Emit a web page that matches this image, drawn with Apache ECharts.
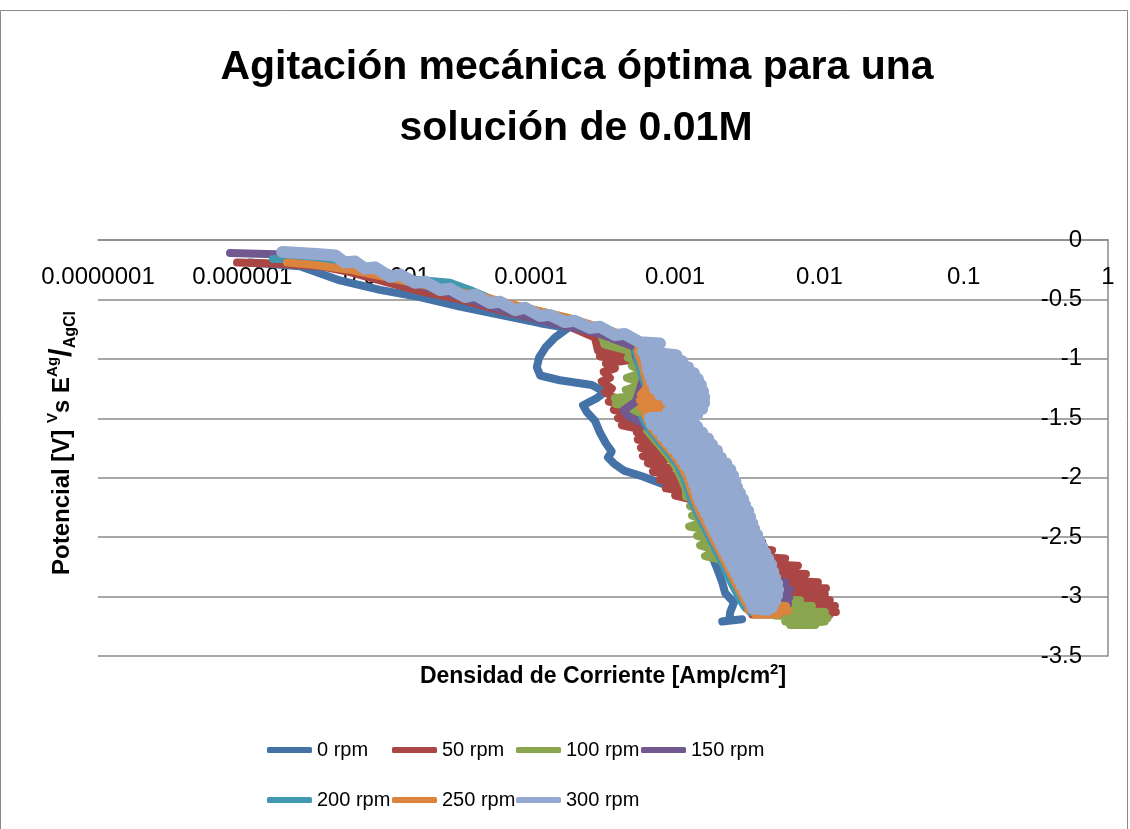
<!DOCTYPE html>
<html>
<head>
<meta charset="utf-8">
<title>Agitación mecánica óptima</title>
<script src="https://cdn.jsdelivr.net/npm/echarts@6/dist/echarts.min.js"></script>
<style>
  html, body { margin: 0; padding: 0; background: #fff; }
  #main { width: 1130px; height: 829px; }
</style>
</head>
<body>
<div id="main"></div>
<script>
// curvas de polarizacion: [densidad de corriente (A/cm2), potencial (V)]
const rpm0 = [
  [1.13e-6, -0.19], [2.51e-6, -0.22], [4.75e-6, -0.34], [9.00e-6, -0.42], [1.70e-5, -0.48],
  [3.23e-5, -0.56], [6.11e-5, -0.63], [1.16e-4, -0.70], [1.81e-4, -0.74], [1.47e-4, -0.82],
  [1.27e-4, -0.90], [1.14e-4, -0.99], [1.10e-4, -1.07], [1.16e-4, -1.14], [1.59e-4, -1.18],
  [2.65e-4, -1.22], [3.26e-4, -1.28], [2.87e-4, -1.33], [2.30e-4, -1.39], [2.45e-4, -1.45],
  [2.78e-4, -1.52], [3.01e-4, -1.62], [3.31e-4, -1.71], [3.64e-4, -1.78], [3.42e-4, -1.83],
  [3.76e-4, -1.88], [4.41e-4, -1.94], [5.97e-4, -1.99], [8.09e-4, -2.05], [1.12e-3, -2.12],
  [1.42e-3, -2.20], [1.54e-3, -2.36], [1.69e-3, -2.52], [1.83e-3, -2.68], [1.99e-3, -2.79],
  [2.12e-3, -2.88], [2.22e-3, -2.97], [2.56e-3, -3.05], [2.41e-3, -3.13], [2.37e-3, -3.20],
  [2.12e-3, -3.21], [2.91e-3, -3.19]
]
const rpm50 = [
  [9.19e-7, -0.19], [1.83e-6, -0.20], [3.46e-6, -0.22], [5.58e-6, -0.27], [9.00e-6, -0.34],
  [1.70e-5, -0.43], [3.23e-5, -0.50], [6.11e-5, -0.59], [1.16e-4, -0.67], [1.87e-4, -0.73],
  [2.78e-4, -0.82],
  [2.92e-4, -0.93], [4.48e-4, -0.94], [3.01e-4, -0.98], [4.85e-4, -1.01], [3.31e-4, -1.04],
  [3.82e-4, -1.08], [3.20e-4, -1.11], [3.53e-4, -1.16], [3.10e-4, -1.19], [3.64e-4, -1.25],
  [3.26e-4, -1.28], [3.82e-4, -1.33], [3.47e-4, -1.36], [4.70e-4, -1.40], [3.76e-4, -1.43],
  [5.26e-4, -1.46], [4.01e-4, -1.50], [5.69e-4, -1.53], [4.27e-4, -1.56], [6.17e-4, -1.60],
  [5.43e-4, -1.62], [7.23e-4, -1.65], [5.51e-4, -1.68], [7.59e-4, -1.72], [5.79e-4, -1.75],
  [8.09e-4, -1.78], [5.97e-4, -1.82], [8.49e-4, -1.85], [6.47e-4, -1.88], [9.19e-4, -1.92],
  [7.01e-4, -1.95], [1.05e-3, -1.99], [7.84e-4, -2.02], [1.17e-3, -2.05], [8.62e-4, -2.09],
  [1.27e-3, -2.12], [1.00e-3, -2.15], [1.38e-3, -2.19],
  [1.49e-3, -2.27], [1.64e-3, -2.37], [1.80e-3, -2.47],
  [1.89e-3, -2.52], [4.01e-3, -2.54], [1.99e-3, -2.57], [4.70e-3, -2.61], [2.08e-3, -2.64],
  [5.79e-3, -2.68], [2.18e-3, -2.71], [7.10e-3, -2.74], [2.33e-3, -2.78], [8.06e-3, -2.81],
  [2.44e-3, -2.84], [9.76e-3, -2.88], [2.56e-3, -2.89], [1.11e-2, -2.93], [2.69e-3, -2.94],
  [1.09e-2, -2.98], [2.82e-3, -3.00], [1.18e-2, -3.03], [2.96e-3, -3.05], [1.28e-2, -3.08],
  [3.11e-3, -3.10], [1.30e-2, -3.13], [3.42e-3, -3.15], [1.18e-2, -3.15]
]
const rpm100 = [
  [1.98e-6, -0.15], [4.05e-6, -0.19], [9.00e-6, -0.29], [2.00e-5, -0.38], [4.44e-5, -0.48],
  [9.86e-5, -0.58], [1.87e-4, -0.66], [3.01e-4, -0.77], [3.26e-4, -0.88],
  [5.01e-4, -0.94], [4.70e-4, -0.99], [5.69e-4, -1.03], [5.01e-4, -1.06], [6.17e-4, -1.11],
  [4.63e-4, -1.16], [6.17e-4, -1.21], [4.55e-4, -1.26], [6.47e-4, -1.30], [3.82e-4, -1.33],
  [6.68e-4, -1.36], [3.88e-4, -1.38], [6.68e-4, -1.41], [4.85e-4, -1.45], [6.47e-4, -1.50],
  [6.37e-4, -1.60], [7.47e-4, -1.70], [8.76e-4, -1.80], [1.00e-3, -1.90], [1.10e-3, -2.00],
  [1.19e-3, -2.10],
  [1.19e-3, -2.16], [1.49e-3, -2.19], [1.27e-3, -2.24], [1.61e-3, -2.27], [1.31e-3, -2.32],
  [1.69e-3, -2.36], [1.25e-3, -2.41], [1.75e-3, -2.44], [1.42e-3, -2.49], [1.83e-3, -2.52],
  [1.49e-3, -2.57], [1.92e-3, -2.61], [1.61e-3, -2.66], [2.05e-3, -2.69], [2.33e-3, -2.79],
  [2.56e-3, -2.89], [2.82e-3, -2.98],
  [2.91e-3, -3.01], [7.35e-3, -3.03], [3.21e-3, -3.06], [8.87e-3, -3.08], [3.88e-3, -3.11],
  [1.09e-2, -3.13], [4.93e-3, -3.16], [1.14e-2, -3.18], [5.79e-3, -3.21], [1.09e-2, -3.21],
  [6.27e-3, -3.24], [9.34e-3, -3.24]
]
const rpm150 = [
  [8.22e-7, -0.11], [1.69e-6, -0.12], [2.51e-6, -0.13], [4.05e-6, -0.17], [6.54e-6, -0.24],
  [1.24e-5, -0.34], [2.75e-5, -0.45], [6.11e-5, -0.58], [1.35e-4, -0.69], [3.01e-4, -0.79],
  [5.26e-4, -0.90],
  [5.34e-4, -0.98], [5.69e-4, -1.06], [6.07e-4, -1.14], [5.69e-4, -1.26], [5.34e-4, -1.36],
  [4.41e-4, -1.43], [4.70e-4, -1.48], [5.69e-4, -1.53],
  [6.90e-4, -1.60], [7.96e-4, -1.70], [9.34e-4, -1.80], [1.07e-3, -1.90], [1.17e-3, -2.00],
  [1.25e-3, -2.10], [1.33e-3, -2.20], [1.47e-3, -2.31], [1.61e-3, -2.41], [1.78e-3, -2.51],
  [1.95e-3, -2.61], [2.15e-3, -2.71], [2.37e-3, -2.81],
  [2.61e-3, -2.86], [5.79e-3, -2.88], [2.74e-3, -2.93], [6.27e-3, -2.94], [2.91e-3, -3.00],
  [6.17e-3, -3.01], [3.06e-3, -3.05], [6.07e-3, -3.06], [3.31e-3, -3.09], [5.50e-3, -3.10]
]
const rpm200 = [
  [1.63e-6, -0.16], [2.51e-6, -0.16], [4.05e-6, -0.17], [6.04e-6, -0.21], [9.00e-6, -0.26],
  [1.45e-5, -0.33], [2.75e-5, -0.36], [3.78e-5, -0.42], [6.11e-5, -0.53], [9.86e-5, -0.59],
  [1.59e-4, -0.66], [3.01e-4, -0.75], [4.85e-4, -0.82], [6.17e-4, -0.88],
  [5.34e-4, -0.94], [5.60e-4, -1.04], [5.88e-4, -1.14], [6.37e-4, -1.25], [6.90e-4, -1.35],
  [7.23e-4, -1.45], [5.97e-4, -1.50], [6.68e-4, -1.60], [7.84e-4, -1.70], [9.19e-4, -1.80],
  [1.05e-3, -1.90], [1.15e-3, -2.00], [1.23e-3, -2.10], [1.31e-3, -2.20], [1.44e-3, -2.31],
  [1.59e-3, -2.41], [1.75e-3, -2.51], [1.92e-3, -2.61], [2.12e-3, -2.71], [2.29e-3, -2.81],
  [2.52e-3, -2.91], [2.78e-3, -3.01], [3.01e-3, -3.08], [3.31e-3, -3.13], [4.01e-3, -3.13],
  [4.55e-3, -3.10]
]
const rpm250 = [
  [2.04e-6, -0.19], [3.19e-6, -0.21], [5.58e-6, -0.25], [1.06e-5, -0.32], [2.00e-5, -0.39],
  [4.44e-5, -0.47], [9.86e-5, -0.58], [1.87e-4, -0.66], [3.53e-4, -0.76], [5.69e-4, -0.85],
  [5.51e-4, -0.94], [5.88e-4, -1.04], [6.17e-4, -1.14], [6.47e-4, -1.23],
  [5.79e-4, -1.30], [9.49e-4, -1.31], [5.69e-4, -1.35], [9.49e-4, -1.38], [5.79e-4, -1.41],
  [8.90e-4, -1.44], [6.17e-4, -1.47],
  [6.37e-4, -1.51], [7.01e-4, -1.60], [8.22e-4, -1.70], [9.64e-4, -1.80], [1.10e-3, -1.90],
  [1.21e-3, -2.00], [1.29e-3, -2.10], [1.38e-3, -2.20], [1.51e-3, -2.31], [1.67e-3, -2.41],
  [1.83e-3, -2.51], [2.02e-3, -2.61], [2.22e-3, -2.71], [2.44e-3, -2.81], [2.69e-3, -2.91],
  [2.96e-3, -3.01],
  [3.11e-3, -3.06], [5.86e-3, -3.08], [3.21e-3, -3.11], [6.05e-3, -3.12], [3.58e-3, -3.15],
  [5.17e-3, -3.15]
]
const rpm300 = [
  [1.89e-6, -0.10], [3.46e-6, -0.12], [4.41e-6, -0.13], [5.15e-6, -0.19], [6.04e-6, -0.18],
  [7.09e-6, -0.24], [8.31e-6, -0.23], [1.06e-5, -0.31], [1.24e-5, -0.29], [1.57e-5, -0.36],
  [1.85e-5, -0.35], [2.34e-5, -0.42], [2.75e-5, -0.41], [3.49e-5, -0.48], [4.10e-5, -0.46],
  [5.21e-5, -0.53], [6.11e-5, -0.52], [7.76e-5, -0.59], [9.10e-5, -0.57], [1.16e-4, -0.64],
  [1.35e-4, -0.63], [1.72e-4, -0.69], [2.02e-4, -0.68], [2.56e-4, -0.74], [3.01e-4, -0.73],
  [3.82e-4, -0.80], [4.48e-4, -0.79], [5.69e-4, -0.86], [7.84e-4, -0.87],
  [5.97e-4, -0.94], [1.02e-3, -0.97], [6.27e-4, -0.99], [1.12e-3, -1.02],
  [6.37e-4, -1.04], [1.23e-3, -1.07], [6.47e-4, -1.09], [1.35e-3, -1.12],
  [6.68e-4, -1.14], [1.44e-3, -1.17], [6.90e-4, -1.19], [1.51e-3, -1.22],
  [7.23e-4, -1.25], [1.56e-3, -1.27], [7.84e-4, -1.30], [1.59e-3, -1.32],
  [8.90e-4, -1.35], [1.59e-3, -1.37], [9.49e-4, -1.40], [1.54e-3, -1.42],
  [8.90e-4, -1.45], [1.42e-3, -1.47], [6.68e-4, -1.50], [1.33e-3, -1.52],
  [6.90e-4, -1.55], [1.42e-3, -1.57], [7.59e-4, -1.60], [1.54e-3, -1.62],
  [8.22e-4, -1.65], [1.69e-3, -1.67], [8.90e-4, -1.70], [1.80e-3, -1.72],
  [9.64e-4, -1.75], [1.95e-3, -1.77], [1.05e-3, -1.80], [2.08e-3, -1.83],
  [1.12e-3, -1.85], [2.26e-3, -1.88], [1.19e-3, -1.90], [2.41e-3, -1.93],
  [1.27e-3, -1.95], [2.52e-3, -1.98], [1.31e-3, -2.00], [2.61e-3, -2.03],
  [1.35e-3, -2.05], [2.69e-3, -2.08], [1.40e-3, -2.10], [2.82e-3, -2.13],
  [1.44e-3, -2.15], [2.96e-3, -2.18], [1.49e-3, -2.20], [3.06e-3, -2.23],
  [1.56e-3, -2.25], [3.21e-3, -2.28], [1.64e-3, -2.30], [3.31e-3, -2.33],
  [1.72e-3, -2.36], [3.42e-3, -2.38], [1.80e-3, -2.41], [3.53e-3, -2.43],
  [1.89e-3, -2.46], [3.70e-3, -2.48], [1.99e-3, -2.51], [3.82e-3, -2.53],
  [2.08e-3, -2.56], [4.01e-3, -2.58], [2.18e-3, -2.61], [4.20e-3, -2.63],
  [2.29e-3, -2.66], [4.41e-3, -2.68], [2.41e-3, -2.71], [4.63e-3, -2.73],
  [2.52e-3, -2.76], [4.78e-3, -2.79], [2.65e-3, -2.81], [4.93e-3, -2.84],
  [2.78e-3, -2.86], [5.09e-3, -2.89], [2.91e-3, -2.91], [5.17e-3, -2.94],
  [3.06e-3, -2.96], [5.09e-3, -2.99], [3.21e-3, -3.01], [4.93e-3, -3.04],
  [3.36e-3, -3.06], [4.70e-3, -3.09], [3.47e-3, -3.10], [4.41e-3, -3.11]
]

const seriesNames = ['0 rpm', '50 rpm', '100 rpm', '150 rpm', '200 rpm', '250 rpm', '300 rpm']
const seriesColors = ['#4572A7', '#AA4643', '#89A54E', '#71588F', '#4198AF', '#DB843D', '#93A9CF']
const curves = [rpm0, rpm50, rpm100, rpm150, rpm200, rpm250, rpm300]
const xTickLabels = ['0.0000001', '0.000001', '0.00001', '0.0001', '0.001', '0.01', '0.1', '1']
const titleLines = ['Agitación mecánica óptima para una', 'solución de 0.01M']

const FONT = '"Liberation Sans", Arial, sans-serif'
const GRID_COLOR = '#8a8a8a'

// posiciones de la leyenda (dos filas, columnas fijas como en Excel)
const legendSpots = [[262, 735], [387, 735], [511, 735], [636, 735], [262, 785], [387, 785], [511, 785]]

let legends = seriesNames.map(function (name, i) {
  return {
    data: [name],
    left: legendSpots[i][0],
    top: legendSpots[i][1],
    icon: 'roundRect',
    itemWidth: 45,
    itemHeight: 6,
    selectedMode: false,
    textStyle: { fontFamily: FONT, fontSize: 20, color: '#000' }
  }
})

let series = seriesNames.map(function (name, i) {
  // la serie de 300 rpm oscila mucho: trazo mas grueso para cubrir la banda
  let w = i === 6 ? 12 : 8
  return {
    name: name,
    type: 'line',
    data: curves[i],
    symbol: 'none',
    showSymbol: false,
    color: seriesColors[i],
    lineStyle: { width: w, color: seriesColors[i], cap: 'round', join: 'round' },
    emphasis: { disabled: true },
    animation: false
  }
})

let myChart = echarts.init(document.getElementById('main'))
let option = {
  backgroundColor: '#fff',
  animation: false,
  grid: { left: 98, right: 22, top: 240, bottom: 173, outerBoundsMode: 'none' },
  legend: legends,
  xAxis: {
    type: 'log',
    logBase: 10,
    min: 1e-7,
    max: 1,
    position: 'top',
    axisLine: { show: true, lineStyle: { color: GRID_COLOR, width: 1.5 } },
    axisTick: { show: false },
    splitLine: { show: false },
    axisLabel: {
      inside: true,
      margin: 25,
      color: '#000',
      fontFamily: FONT,
      fontSize: 24,
      showMinLabel: true,
      showMaxLabel: true,
      formatter: function (v) {
        let e = Math.round(Math.log10(v))
        return xTickLabels[e + 7]
      }
    }
  },
  yAxis: {
    type: 'value',
    min: -3.5,
    max: 0,
    interval: 0.5,
    position: 'right',
    axisLine: { show: true, lineStyle: { color: GRID_COLOR, width: 1.5 } },
    axisTick: { show: false },
    splitLine: { show: true, lineStyle: { color: GRID_COLOR, width: 1.5 } },
    axisLabel: { inside: true, margin: 26, color: '#000', fontFamily: FONT, fontSize: 24 }
  },
  series: series,
  graphic: [
    {
      type: 'rect',
      silent: true,
      shape: { x: 0.5, y: 10.5, width: 1127, height: 830 },
      style: { fill: 'none', stroke: GRID_COLOR, lineWidth: 1 }
    },
    {
      type: 'text',
      x: 577,
      y: 68,
      style: {
        text: titleLines[0], fill: '#000', font: 'bold 41px ' + FONT,
        align: 'center', verticalAlign: 'middle', textAlign: 'center', textVerticalAlign: 'middle'
      }
    },
    {
      type: 'text',
      x: 576,
      y: 129,
      style: {
        text: titleLines[1], fill: '#000', font: 'bold 41px ' + FONT,
        align: 'center', verticalAlign: 'middle', textAlign: 'center', textVerticalAlign: 'middle'
      }
    },
    {
      // titulo eje x
      type: 'text',
      x: 603,
      y: 677,
      style: {
        text: '{b|Densidad de Corriente [Amp/cm}{sup|2}{b|]}',
        fill: '#000',
        align: 'center', verticalAlign: 'middle', textAlign: 'center', textVerticalAlign: 'middle',
        rich: {
          b: { fontFamily: FONT, fontSize: 23, fontWeight: 'bold', lineHeight: 30, verticalAlign: 'middle' },
          sup: { fontFamily: FONT, fontSize: 15, fontWeight: 'bold', lineHeight: 16, verticalAlign: 'top' }
        }
      }
    },
    {
      // titulo eje y, girado
      type: 'text',
      x: 62,
      y: 443,
      rotation: Math.PI / 2,
      style: {
        text: '{b|Potencial [V] }{sup|V}{b|s E}{sup|Ag}{sl|/}{sub|AgCl}',
        fill: '#000',
        align: 'center', verticalAlign: 'middle', textAlign: 'center', textVerticalAlign: 'middle',
        rich: {
          b: { fontFamily: FONT, fontSize: 24, fontWeight: 'bold', lineHeight: 34, verticalAlign: 'middle' },
          sup: { fontFamily: FONT, fontSize: 15, fontWeight: 'bold', lineHeight: 16, verticalAlign: 'top' },
          sl: { fontFamily: FONT, fontSize: 31, fontWeight: 'bold', lineHeight: 34, verticalAlign: 'middle' },
          sub: { fontFamily: FONT, fontSize: 16, fontWeight: 'bold', lineHeight: 16, verticalAlign: 'bottom' }
        }
      }
    }
  ]
}
myChart.setOption(option)
</script>
</body>
</html>
